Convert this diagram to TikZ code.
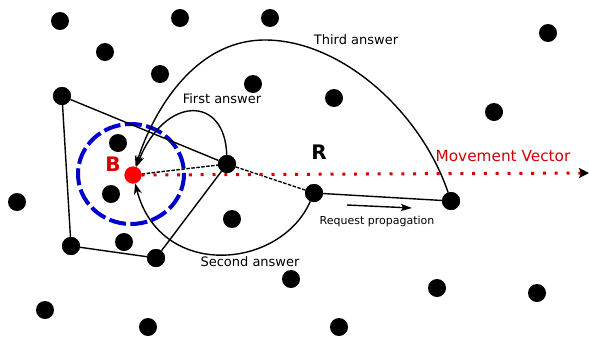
\documentclass[tikz,border=0pt]{standalone}
\usepackage{fontspec}
\setmainfont{DejaVu Sans}
\usetikzlibrary{arrows.meta}
\definecolor{dred}{RGB}{210,0,0}
\definecolor{bblue}{RGB}{0,0,205}
\tikzset{
  dot/.style={circle, fill=black, inner sep=0pt, minimum size=18pt},
  bdot/.style={circle, fill=red, inner sep=0pt, minimum size=17pt},
  edge/.style={line width=1.4pt},
  ans/.style={line width=1.4pt, -{Stealth[length=11pt,width=8pt,inset=3.5pt]}},
  lbl/.style={font=\fontsize{13}{15}\selectfont, inner sep=1pt},
}
\begin{document}
\begin{tikzpicture}[x=1pt,y=-1pt]
\useasboundingbox (0,0) rectangle (589,338);
% dots
\node[dot] (d1) at (60,21) {};
\node[dot] (d2) at (180,18) {};
\node[dot] (d3) at (270,18) {};
\node[dot] (d4) at (548,33) {};
\node[dot] (d5) at (105,52) {};
\node[dot] (d6) at (160,74) {};
\node[dot] (d7) at (253,84) {};
\node[dot] (d8) at (334,98) {};
\node[dot] (d9) at (494,112) {};
\node[dot] (d10) at (118,143) {};
\node[dot] (d11) at (111,194) {};
\node[dot] (d12) at (17,202) {};
\node[dot] (d13) at (232,219) {};
\node[dot] (d14) at (124,242) {};
\node[dot] (d15) at (291,279) {};
\node[dot] (d16) at (437,288) {};
\node[dot] (d17) at (537,293) {};
\node[dot] (d18) at (45,310) {};
\node[dot] (d19) at (148,327) {};
\node[dot] (d20) at (339,327) {};
% polygon vertices and path nodes
\node[dot] (p1) at (62,96) {};
\node[dot] (p2) at (71,246) {};
\node[dot] (p3) at (156,258) {};
\node[dot] (n1) at (227,164) {};
\node[dot] (n2) at (314,193) {};
\node[dot] (n3) at (451,201) {};
\node[bdot] (B) at (133,175) {};
\coordinate (mvend) at (589,173);
\coordinate (rp1) at (347,205);
\coordinate (rp2) at (412,208);
% blue dashed circle
\draw[bblue, line width=4pt, dash pattern=on 17pt off 4.5pt] (131,174) ellipse [x radius=53, y radius=50];
% polygon
\draw[edge] (p1) -- (n1) -- (p3) -- (p2) -- (p1);
% request path
\draw[line width=1.4pt, dash pattern=on 3.5pt off 1.5pt] (B) -- (n1) -- (n2);
\draw[edge] (n2) -- (n3);
% movement vector
\draw[dred, line width=3pt, dash pattern=on 3pt off 8.8pt, -{Stealth[black,length=10pt,width=10pt,inset=2pt]}] (B.east) -- (mvend);
% answers
\draw[ans] (n1) .. controls (225,95) and (165,95) .. (B);
\draw[ans] (n2) .. controls (280,270) and (160,280) .. (B);
\draw[edge] (n3) .. controls (420,110) and (340,40) .. (265,40);
\draw[ans] (265,40) .. controls (190,40) and (150,120) .. (B);
\draw[line width=1.4pt, -{Stealth[length=11pt,width=7pt,inset=2pt]}] (rp1) -- (rp2);
% redraw dots above lines
\foreach \n in {p1,p2,p3,n1,n2,n3} \fill (\n) circle (9pt);
\fill[red] (B) circle (8.5pt);
% labels
\node[lbl] (l1) at (222,99) {First answer};
\node[lbl] (l2) at (250,262) {Second answer};
\node[lbl] (l3) at (356,40) {Third answer};
\node[font=\fontsize{11}{13}\selectfont, inner sep=1pt] (l4) at (377,221) {Request propagation};
\node[font=\fontsize{15.3}{17}\selectfont, text=dred, inner sep=1pt] (l5) at (503,156) {Movement Vector};
\node[font=\bfseries\fontsize{20}{22}\selectfont, text=dred, inner sep=0pt] (lB) at (113,164) {B};
\node[font=\bfseries\fontsize{20}{22}\selectfont, inner sep=0pt] (lR) at (319,152) {R};
\end{tikzpicture}
\end{document}
